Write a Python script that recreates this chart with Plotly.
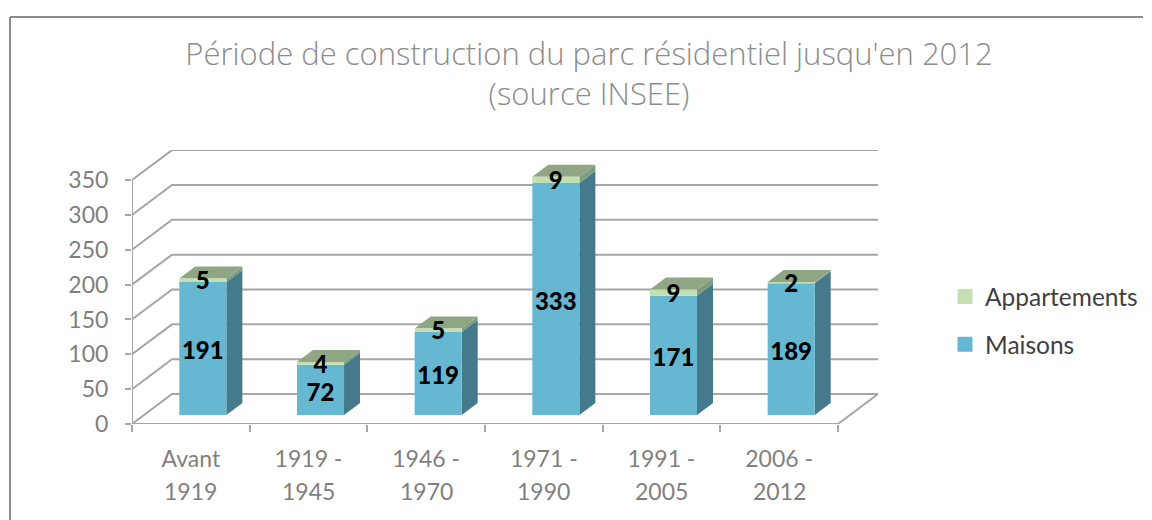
import plotly.graph_objects as go

categories_top = ["Avant", "1919 -", "1946 -", "1971 -", "1991 -", "2006 -"]
categories_bottom = ["1919", "1945", "1970", "1990", "2005", "2012"]
maisons = [191, 72, 119, 333, 171, 189]
appartements = [5, 4, 5, 9, 9, 2]
y_ticks = [0, 50, 100, 150, 200, 250, 300, 350]

# 3-D projection expressed in axis units
DX, DY = 0.34, 43.0
BAR_W = 0.40
D0, D1 = 0.30, 0.70
NUDGE_MAISONS = -7.0
NUDGE_APPART = -4.5

BLUE, BLUE_SIDE = "#66B8D2", "#447A8C"
GREEN, GREEN_SIDE, GREEN_TOP = "#C4E0B0", "#7E9C80", "#8FA584"
GRID = "#A6A6A6"
TICK = "#7F7F7F"


def proj(x, y, d):
    return x + DX * d, y + DY * d


def poly(points, color):
    xs = [p[0] for p in points] + [points[0][0]]
    ys = [p[1] for p in points] + [points[0][1]]
    return go.Scatter(x=xs, y=ys, mode="lines", fill="toself", fillcolor=color,
                      line=dict(width=0, color=color), hoverinfo="skip",
                      showlegend=False, cliponaxis=False)


def line(xs, ys, width=2):
    return go.Scatter(x=xs, y=ys, mode="lines", line=dict(color=GRID, width=width),
                      hoverinfo="skip", showlegend=False, cliponaxis=False)


fig = go.Figure()

# walls and floor
n = len(categories_top)
for v in y_ticks:
    a = proj(0, v, 0)
    b = proj(0, v, 1)
    c = proj(n, v, 1)
    fig.add_trace(line([a[0], b[0], c[0]], [a[1], b[1], c[1]]))
fr = proj(n, 0, 0)
br = proj(n, 0, 1)
fig.add_trace(line([0, fr[0], br[0]], [0, fr[1], br[1]]))
fig.add_trace(line([0, 0], [0, y_ticks[-1]]))

label_x, label_y, label_t = [], [], []
for i, (m, ap) in enumerate(zip(maisons, appartements)):
    x0 = i + 0.5 - BAR_W / 2
    x1 = i + 0.5 + BAR_W / 2
    P = proj
    tot = m + ap
    # side faces
    fig.add_trace(poly([P(x1, 0, D0), P(x1, 0, D1), P(x1, m, D1), P(x1, m, D0)], BLUE_SIDE))
    fig.add_trace(poly([P(x1, m, D0), P(x1, m, D1), P(x1, tot, D1), P(x1, tot, D0)], GREEN_SIDE))
    # top
    fig.add_trace(poly([P(x0, tot, D0), P(x1, tot, D0), P(x1, tot, D1), P(x0, tot, D1)], GREEN_TOP))
    # front
    fig.add_trace(poly([P(x0, 0, D0), P(x1, 0, D0), P(x1, m, D0), P(x0, m, D0)], BLUE))
    fig.add_trace(poly([P(x0, m, D0), P(x1, m, D0), P(x1, tot, D0), P(x0, tot, D0)], GREEN))
    cx = P(i + 0.5, 0, D0)[0]
    base = P(0, 0, D0)[1]
    label_x += [cx, cx]
    label_y += [base + m / 2 + NUDGE_MAISONS, base + m + ap / 2 + NUDGE_APPART]
    label_t += [str(m), str(ap)]

fig.add_trace(go.Scatter(x=label_x, y=label_y, text=label_t, mode="text",
                         textposition="middle center", cliponaxis=False,
                         textfont=dict(family="Lato", size=24, color="#000000", weight=900),
                         hoverinfo="skip", showlegend=False))

# legend entries
for name, col, grp in [("Appartements", GREEN, "a"), ("Maisons", BLUE, "b")]:
    fig.add_trace(go.Scatter(x=[None], y=[None], mode="markers", name=name, legendgroup=grp,
                             marker=dict(symbol="square", size=15, color=col)))

annotations = [dict(x=i + 0.5, y=-0.245, xref="x", yref="paper", text=t, showarrow=False,
                    font=dict(family="Lato", size=23, color=TICK), yanchor="middle")
               for i, t in enumerate(categories_bottom)]

fig.update_layout(
    width=1152, height=520, autosize=False,
    margin=dict(l=132, r=274, t=150, b=96),
    paper_bgcolor="#FFFFFF", plot_bgcolor="rgba(0,0,0,0)",
    title=dict(text="Période de construction du parc résidentiel jusqu'en 2012<br>(source INSEE)",
               x=589 / 1152, xanchor="center", y=1 - 65 / 520, yanchor="top",
               font=dict(family="Open Sans", size=31, color="#8C8C8C", weight=300)),
    xaxis=dict(range=[0, n + DX], tickvals=[i + 0.5 for i in range(n)], ticktext=categories_top,
               ticks="", showgrid=False, zeroline=False, showline=False, ticklabelstandoff=19,
               tickfont=dict(family="Lato", size=23, color=TICK),
               minor=dict(tickmode="array", tickvals=list(range(n + 1)), ticks="outside",
                          ticklen=7, tickcolor=GRID, tickwidth=2, showgrid=False)),
    yaxis=dict(range=[0, 274 / 0.697], tickvals=y_ticks, ticks="outside", ticklen=6, tickcolor=GRID,
               tickwidth=2, showgrid=False, zeroline=False, showline=False, ticklabelstandoff=12,
               tickfont=dict(family="Lato", size=23, color=TICK)),
    legend=dict(x=945 / 1152, xref="container", y=1 - 274 / 520, yref="container",
                xanchor="left", yanchor="top", tracegroupgap=13, itemwidth=30,
                font=dict(family="Lato", size=24.5, color="#404040"), bgcolor="rgba(0,0,0,0)"),
    annotations=annotations,
    shapes=[dict(type="line", xref="paper", yref="paper", x0=-122 / 746, x1=1011 / 746,
                 y0=1 + 133 / 274, y1=1 + 133 / 274, line=dict(color="#8C8C8C", width=2)),
            dict(type="line", xref="paper", yref="paper", x0=-122 / 746, x1=-122 / 746,
                 y0=1 + 133 / 274, y1=-96 / 274, line=dict(color="#8C8C8C", width=2))],
)
fig.write_html("out.html", config=dict(displayModeBar=False),
               post_script="document.body.style.margin='0';")
